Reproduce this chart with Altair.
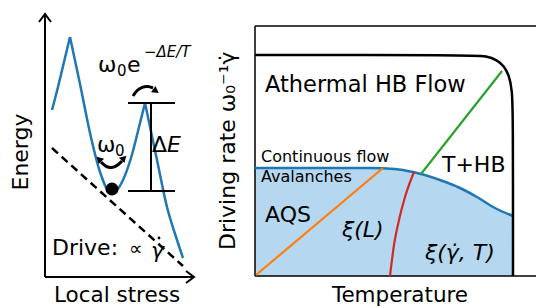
import altair as alt
import pandas as pd

# ---------------- data (page-pixel-like schematic units) ----------------
# Left panel: energy landscape (x: local stress, y: energy; y grows downward)
well_seg = [0, 0, 0, 0, 1, 1, 1, 1, 1, 1, 1, 1, 1, 2, 2, 2, 2, 2]
well_x = [52, 58, 64, 70, 70, 80, 90, 100, 112, 123, 131, 140, 145, 145, 157, 167, 177, 183]
well_y = [110, 87, 62, 37, 37, 84, 133, 172, 194, 180, 158, 123, 103, 103, 160, 207, 240, 258]

drive_x = [52, 183]
drive_y = [148, 266]

ball_x = [112]
ball_y = [189]

# Delta E bar
de_x1 = [128, 128, 151]
de_x2 = [175, 175, 151]
de_y1 = [103, 191, 103]
de_y2 = [103, 191, 191]

# axes arrows of the left panel
ax_g = ["v", "v", "h", "h", "vh", "vh", "vh", "hh", "hh", "hh"]
ax_x = [45, 45, 45, 194, 39, 45, 51, 186, 194, 186]
ax_y = [277, 14, 277, 277, 22, 14, 22, 271, 277, 283]

# curved arrows
arr_g = ["top"] * 5 + ["w0"] * 6
arr_x = [133, 137, 142, 148, 153, 101, 105, 110, 115, 119, 122]
arr_y = [96, 90, 87, 86, 88, 162, 166, 168, 167, 164, 161]
head_x = [156, 99, 124]
head_y = [91, 159, 158]
head_ang = [125, 315, 45]

# dot over gamma in "Drive: ∝ γ̇"
gdot_x = [159]
gdot_y = [238]

# Right panel: phase diagram
frame_x1 = [255, 255, 255]
frame_x2 = [544, 544, 255]
frame_y1 = [26, 276, 26]
frame_y2 = [26, 276, 276]

flow_x = [255, 470, 487, 497, 504, 509, 512, 513, 513]
flow_y = [55, 55, 56, 60, 66, 75, 90, 110, 276]

aval_x = [255, 370, 395, 413, 440, 460, 477, 495, 513]
aval_y = [168, 168, 169, 172, 180, 188, 197, 208, 216]

aqs_x = [256, 383]
aqs_y = [275, 168]

xil_x = [390, 394, 399, 405, 414]
xil_y = [276, 245, 220, 197, 172]

thb_x = [421, 502]
thb_y = [174, 71]

# texts: label, x, baseline y, size, italic, align
txt = ["Local stress", "Temperature", "Athermal HB Flow", "Continuous flow", "Avalanches",
       "AQS", "T+HB", "Drive:", "∝", "γ",
       "ω", "0", "e", "−ΔE/T",
       "ω", "0", "Δ", "E",
       "ξ(L)", "ξ(γ̇, T)"]
txt_x = [117, 400, 265, 261, 261,
         265, 442, 52, 129, 151,
         98, 117, 127, 144,
         97, 115, 152, 167,
         342, 425]
txt_y = [302, 302, 92, 162, 182,
         222, 172, 255, 255, 258,
         72, 76, 72, 57,
         152, 156, 152, 152,
         237, 260]
txt_size = [21.5, 21.5, 22.5, 16, 16,
            22, 22, 22, 19, 22,
            22, 15, 22, 15,
            22, 15, 22, 22,
            22, 22]
txt_it = [False] * 9 + [True] + [False] * 3 + [True] + [False] * 3 + [True] * 3
txt_align = ["center", "center"] + ["left"] * 18

rot_txt = ["Energy", "Driving rate ω₀⁻¹γ̇"]
rot_x = [28, 235]
rot_y = [152, 250]
rot_align = ["center", "left"]

# ---------------- chart ----------------
W, H = 528, 300
X = alt.Scale(domain=[8, 8 + W], zero=False, nice=False)
Y = alt.Scale(domain=[8, 8 + H], reverse=True, zero=False, nice=False)
FONT = "DejaVu Sans"
BLUE = "#1f77b4"


def xe(f="x"):
    return alt.X(f"{f}:Q", scale=X, axis=None)


def ye(f="y"):
    return alt.Y(f"{f}:Q", scale=Y, axis=None)


layers = []

# filled avalanche region
fill_df = pd.DataFrame({"x": aval_x, "y": aval_y, "y2": [276] * len(aval_x)})
layers.append(alt.Chart(fill_df).mark_area(color="#b5d7f0", interpolate="monotone").encode(
    x=xe(), y=ye(), y2="y2:Q"))

# frame
fr = pd.DataFrame({"x": frame_x1, "x2": frame_x2, "y": frame_y1, "y2": frame_y2})
layers.append(alt.Chart(fr).mark_rule(color="black", strokeWidth=1.5).encode(
    x=xe(), x2="x2:Q", y=ye(), y2="y2:Q"))

# left axes with arrows
axdf = pd.DataFrame({"g": ax_g, "x": ax_x, "y": ax_y, "o": range(len(ax_x))})
layers.append(alt.Chart(axdf).mark_line(color="black", strokeWidth=2).encode(
    x=xe(), y=ye(), detail="g:N", order="o:Q"))

# dashed drive line
ddf = pd.DataFrame({"x": drive_x, "y": drive_y})
layers.append(alt.Chart(ddf).mark_line(color="black", strokeWidth=2.5, strokeDash=[8, 5]).encode(
    x=xe(), y=ye()))

# energy landscape
wdf = pd.DataFrame({"g": well_seg, "x": well_x, "y": well_y, "o": range(len(well_x))})
layers.append(alt.Chart(wdf).mark_line(color=BLUE, strokeWidth=2.5, interpolate="monotone").encode(
    x=xe(), y=ye(), detail="g:N", order="o:Q"))

# ball
bdf = pd.DataFrame({"x": ball_x, "y": ball_y})
layers.append(alt.Chart(bdf).mark_circle(color="black", opacity=1, size=170).encode(x=xe(), y=ye()))

# delta E bar
dedf = pd.DataFrame({"x": de_x1, "x2": de_x2, "y": de_y1, "y2": de_y2})
layers.append(alt.Chart(dedf).mark_rule(color="black", strokeWidth=2).encode(
    x=xe(), x2="x2:Q", y=ye(), y2="y2:Q"))

# curved arrows
adf = pd.DataFrame({"g": arr_g, "x": arr_x, "y": arr_y, "o": range(len(arr_x))})
layers.append(alt.Chart(adf).mark_line(color="black", strokeWidth=3, interpolate="basis").encode(
    x=xe(), y=ye(), detail="g:N", order="o:Q"))
hdf = pd.DataFrame({"x": head_x, "y": head_y, "a": head_ang})
layers.append(alt.Chart(hdf).mark_point(shape="triangle-up", filled=True, color="black",
                                        opacity=1, size=60).encode(
    x=xe(), y=ye(), angle=alt.Angle("a:Q", scale=None)))

# dot above gamma
gdf = pd.DataFrame({"x": gdot_x, "y": gdot_y})
layers.append(alt.Chart(gdf).mark_circle(color="black", opacity=1, size=8).encode(x=xe(), y=ye()))


# phase diagram lines
def pline(xs, ys, color, width, interp="monotone"):
    d = pd.DataFrame({"x": xs, "y": ys, "o": range(len(xs))})
    return alt.Chart(d).mark_line(color=color, strokeWidth=width, interpolate=interp).encode(
        x=xe(), y=ye(), order="o:Q")


layers.append(pline(aval_x, aval_y, BLUE, 2.5))
layers.append(pline(aqs_x, aqs_y, "#ff7f0e", 2.2, "linear"))
layers.append(pline(xil_x, xil_y, "#d62728", 2.2))
layers.append(pline(thb_x, thb_y, "#2ca02c", 2.2, "linear"))
layers.append(pline(flow_x, flow_y, "black", 2.5, "basis"))

# texts
tdf = pd.DataFrame({"t": txt, "x": txt_x, "y": txt_y, "s": txt_size, "it": txt_it, "a": txt_align})
for it in [False, True]:
    for al in ["left", "center"]:
        sub = tdf[(tdf.a == al) & (tdf.it == it)]
        if len(sub) == 0:
            continue
        layers.append(alt.Chart(sub).mark_text(
            font=FONT, align=al, baseline="alphabetic", color="black",
            fontStyle="italic" if it else "normal").encode(
            x=xe(), y=ye(), text="t:N", size=alt.Size("s:Q", scale=None)))

rdf = pd.DataFrame({"t": rot_txt, "x": rot_x, "y": rot_y, "a": rot_align})
for al in ["left", "center"]:
    layers.append(alt.Chart(rdf[rdf.a == al]).mark_text(
        font=FONT, fontSize=22, angle=270, align=al, baseline="alphabetic", color="black").encode(
        x=xe(), y=ye(), text="t:N"))

chart = alt.layer(*layers).properties(
    width=W, height=H, padding=0,
    autosize=alt.AutoSizeParams(type="none"),
).configure_view(stroke=None)

chart.save("out.html", embed_options={"renderer": "svg", "actions": False})
